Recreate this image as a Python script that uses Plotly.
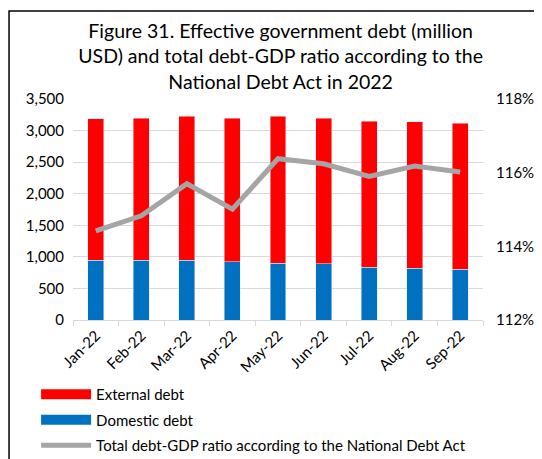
import plotly.graph_objects as go

months = ["Jan-22", "Feb-22", "Mar-22", "Apr-22", "May-22", "Jun-22", "Jul-22", "Aug-22", "Sep-22"]
domestic = [949, 949, 949, 922, 901, 891, 838, 822, 801]
total = [3187, 3198, 3224, 3193, 3224, 3198, 3151, 3140, 3113]
external = [t - d for t, d in zip(total, domestic)]
ratio = [114.42, 114.83, 115.70, 115.01, 116.38, 116.24, 115.90, 116.18, 116.02]

FONT = "Lato"
RED = "#FF0000"
BLUE = "#0070C0"
GREY = "#A5A5A5"

fig = go.Figure()
fig.add_trace(go.Bar(x=months, y=domestic, name="Domestic debt", marker_color=BLUE,
                     showlegend=False, width=0.35))
fig.add_trace(go.Bar(x=months, y=external, name="External debt", marker_color=RED,
                     showlegend=False, width=0.35))
fig.add_trace(go.Scatter(x=months, y=ratio, name="Total debt-GDP ratio according to the National Debt Act",
                         mode="lines", line=dict(color=GREY, width=5), yaxis="y2", showlegend=False))
# legend entries
fig.add_trace(go.Scatter(x=[None], y=[None], mode="lines", name="External debt",
                         legendgroup="a", line=dict(color=RED, width=10)))
fig.add_trace(go.Scatter(x=[None], y=[None], mode="lines", name="Domestic debt",
                         legendgroup="b", line=dict(color=BLUE, width=10)))
fig.add_trace(go.Scatter(x=[None], y=[None], mode="lines", legendgroup="c",
                         name="Total debt-GDP ratio according to the National Debt Act",
                         line=dict(color=GREY, width=5)))

fig.update_layout(
    width=542, height=459,
    barmode="stack",
    paper_bgcolor="white", plot_bgcolor="white",
    font=dict(family=FONT, size=15, color="black"),
    margin=dict(l=65, r=67, t=91, b=147, autoexpand=False),
    title=dict(text="Figure 31. Effective government debt (million<br>USD) and total debt-GDP ratio according to the<br>National Debt Act in 2022",
               x=0.503, xanchor="center", y=0.935, yanchor="top",
               font=dict(family=FONT, size=19.5, color="black")),
    xaxis=dict(tickangle=-45, showline=True, linecolor="#D9D9D9", ticks="outside",
               tickson="boundaries", ticklen=5, tickcolor="#D9D9D9",
               tickfont=dict(size=15), showgrid=False, automargin=False),
    yaxis=dict(range=[0, 3500], dtick=500, tickformat=",", showgrid=True,
               gridcolor="#D9D9D9", gridwidth=1, zeroline=False, automargin=False,
               tickfont=dict(size=15), ticks="", ticklabelstandoff=8),
    yaxis2=dict(range=[112, 118], dtick=2, ticksuffix="%", overlaying="y", side="right",
                showgrid=False, zeroline=False, automargin=False,
                tickfont=dict(size=15), ticklabelstandoff=12),
    legend=dict(x=-0.09, xanchor="left", y=-0.262, yanchor="top", orientation="v",
                itemwidth=50, traceorder="grouped", tracegroupgap=3, font=dict(size=15),
                bgcolor="rgba(0,0,0,0)"),
    shapes=[dict(type="rect", xref="paper", yref="paper", x0=-0.156, x1=1.2, y0=-0.7, y1=1.398,
                 line=dict(color="black", width=1.5))],
)

fig.write_html("out.html")
